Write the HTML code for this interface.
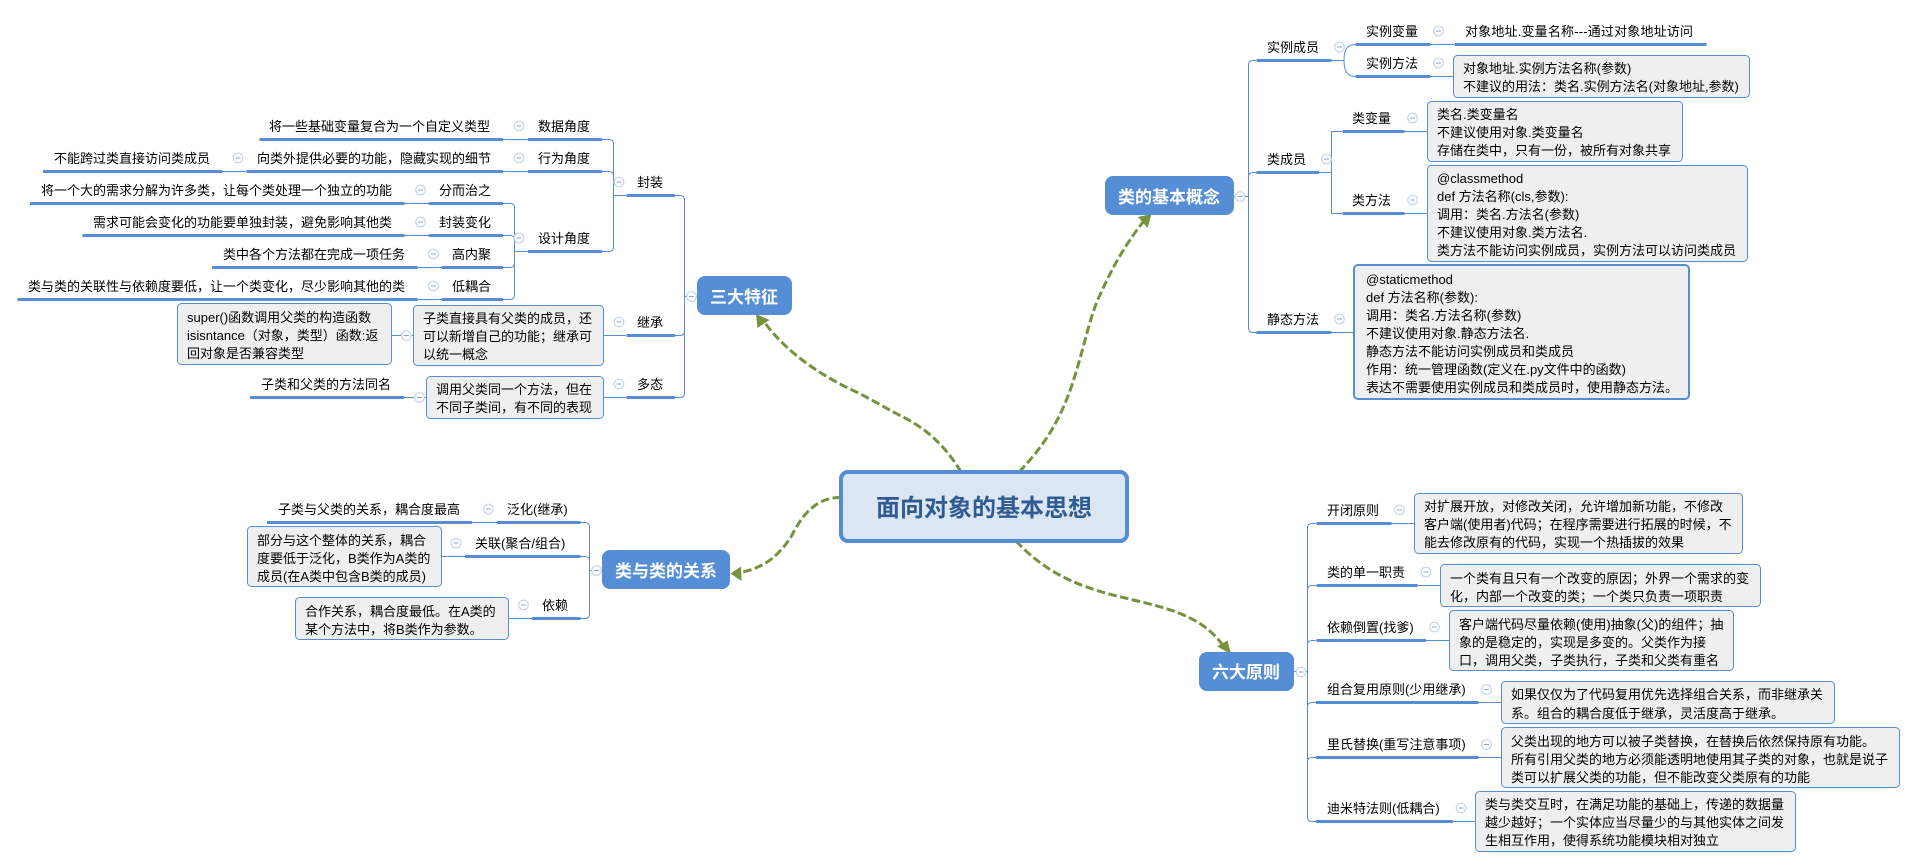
<!DOCTYPE html>
<html lang="zh"><head><meta charset="utf-8"><title>面向对象的基本思想</title>
<style>
html,body{margin:0;padding:0;background:#fff;width:1916px;height:868px;overflow:hidden}
svg{display:block}
text{font-family:"Liberation Sans","Noto Sans CJK SC",sans-serif;font-size:13px;fill:#000}
.thin{fill:none;stroke:#558ed5;stroke-width:1}
.thick{fill:none;stroke:#558ed5;stroke-width:3}
.box{fill:#efefef;stroke:#558ed5;stroke-width:1}
.head{fill:#558ed5}
.ht{font-size:17px;font-weight:700;fill:#fff}
.arr{fill:none;stroke:#76923c;stroke-width:3;stroke-dasharray:8.5 3.5}
.ah{fill:#76923c}
</style></head><body>
<svg width="1916" height="868" viewBox="0 0 1916 868" xmlns="http://www.w3.org/2000/svg">
<defs><g id="c"><circle r="4.8" fill="#fff" stroke="#c6d4ee" stroke-width="1.2"/><path d="M-2.5 0H2.5" stroke="#8ea6d6" stroke-width="1"/></g></defs>

<!-- thin connectors -->
<g class="thin">
<path d="M503 139.5H528M602 139.5H609Q613.5 139.5 613.5 144V247Q613.5 251.5 609 251.5H602M602 171.5H609Q613.5 171.5 613.5 176M613.5 195.5H626"/>
<path d="M222 171.5H246M503 171.5H528"/>
<path d="M404 203.5H429M404 235.5H429M417 267.5H442M417 299.5H442"/>
<path d="M503 203.5H510Q514.5 203.5 514.5 208V295Q514.5 299.5 510 299.5H503M503 235.5H510Q514.5 235.5 514.5 240M503 267.5H510Q514.5 267.5 514.5 263M514.5 251.5H528"/>
<path d="M675 195.5H680Q684.5 195.5 684.5 200V393Q684.5 397.5 680 397.5H675M675 335.5H680Q684.5 335.5 684.5 331M684.5 296.5H697"/>
<path d="M603 335.5H626M391 335.5H413.5M603 397.5H626M404 397.5H426.5"/>
<path d="M580 522.5H585Q589.5 522.5 589.5 527V614Q589.5 618.5 585 618.5H580M580 556.5H585Q589.5 556.5 589.5 561M589.5 570.5H602M472 522.5H497M441.5 556.5H465M508.5 618.5H532"/>
<path d="M1234 196.5H1248M1256 60.5H1253Q1248.5 60.5 1248.5 65V328Q1248.5 332.5 1253 332.5H1257M1257 172.5H1253Q1248.5 172.5 1248.5 177"/>
<path d="M1331 60.5H1344M1355.5 44.5C1347 44.5 1344 50 1344 60.5C1344 71 1347 76.5 1355.5 76.5M1430 44.5H1455M1430 76.5H1453.5"/>
<path d="M1319 172.5H1331.5M1343 131.5H1331.5V213.5H1343M1404 131.5H1427.5M1404 213.5H1427.5M1331 332.5H1354"/>
<path d="M1294 671.5H1307.5M1316 523.5H1312Q1307.5 523.5 1307.5 528V817Q1307.5 821.5 1312 821.5H1316M1316 585.5H1312Q1307.5 585.5 1307.5 590M1316 640.5H1312Q1307.5 640.5 1307.5 645M1316 702.5H1312Q1307.5 702.5 1307.5 707M1316 757.5H1312Q1307.5 757.5 1307.5 762"/>
<path d="M1391 523.5H1414.5M1417 585.5H1440.5M1426 640.5H1449.5M1478 702.5H1501.5M1478 757.5H1501.5M1452 821.5H1476"/>
</g>

<!-- thick underlines -->
<g class="thick">
<path d="M528 139.5H602M259.5 139.5H503M528 171.5H602M246.5 171.5H503M43 171.5H222.5"/>
<path d="M428.5 203.5H503M30 203.5H404.5M428.5 235.5H503M82.5 235.5H404.5M441.5 267.5H503M212 267.5H417.5M441.5 299.5H503M17.5 299.5H417.5M528 251.5H602"/>
<path d="M626.5 195.5H675M626.5 335.5H675M626.5 397.5H675M250 397.5H404"/>
<path d="M497 522.5H580.5M267 522.5H472M465 556.5H580.5M532 618.5H580.5"/>
<path d="M1256.5 60.5H1331.5M1355.5 44.5H1430.5M1455 44.5H1706.5M1355.5 76.5H1430.5M1256.5 172.5H1319M1343 131.5H1404.5M1343 213.5H1404.5M1256.5 332.5H1331.5"/>
<path d="M1316.5 523.5H1391.5M1316.5 585.5H1417.5M1316.5 640.5H1426M1316 702.5H1478.5M1316 757.5H1478.5M1316 821.5H1453"/>
</g>

<!-- dashed arrows -->
<path class="arr" d="M961 472C945 445 925 428 903 417C885 408 868 397 850 389C815 372 785 350 765 323"/>
<polygon class="ah" points="756,314 769.5,320 757.5,328"/>
<path class="arr" d="M1019 472C1045 445 1060 420 1072 385C1085 345 1090 315 1100 295C1112 268 1125 245 1143 222"/>
<polygon class="ah" points="1151.5,214 1138,217 1147.5,228"/>
<path class="arr" d="M841 497.5C815 497 801 517 791 537C778 556 765 568 738 573"/>
<polygon class="ah" points="730.5,573.5 741,566.5 741.5,581"/>
<path class="arr" d="M1016 541C1045 572 1075 585 1113 595C1160 607 1200 612 1224 647"/>
<polygon class="ah" points="1231,654 1217,646.5 1227.5,640.5"/>

<!-- center -->
<rect x="841" y="472" width="286" height="69" rx="7" fill="#dce6f2" stroke="#558ed5" stroke-width="4"/>
<text x="876" y="516" style="font-size:24px;font-weight:700;fill:#2f5b93">面向对象的基本思想</text>

<!-- main topics -->
<rect class="head" x="697" y="276" width="95" height="39" rx="8"/><text class="ht" x="710" y="303">三大特征</text>
<rect class="head" x="602" y="550" width="128" height="39" rx="8"/><text class="ht" x="615" y="577">类与类的关系</text>
<rect class="head" x="1105" y="176" width="129" height="39" rx="8"/><text class="ht" x="1118" y="203">类的基本概念</text>
<rect class="head" x="1199" y="652" width="95" height="39" rx="8"/><text class="ht" x="1212" y="678">六大原则</text>

<!-- boxes -->
<rect class="box" x="413.5" y="305.5" width="190" height="60" rx="4"/>
<rect class="box" x="177.5" y="303.5" width="214" height="61" rx="4"/>
<rect class="box" x="426.5" y="376.5" width="177" height="42" rx="4"/>
<rect class="box" x="247.5" y="526.5" width="194" height="60" rx="4"/>
<rect class="box" x="295.5" y="597.5" width="213" height="42" rx="4"/>
<rect class="box" x="1453.5" y="55.5" width="296" height="42" rx="4"/>
<rect class="box" x="1427.5" y="101.5" width="255" height="60" rx="4"/>
<rect class="box" x="1427.5" y="165.5" width="320" height="96" rx="4"/>
<rect class="box" x="1354" y="265" width="335" height="134" rx="4" style="stroke-width:2"/>
<rect class="box" x="1414.5" y="493.5" width="328" height="60" rx="4"/>
<rect class="box" x="1440.5" y="564.5" width="320" height="42" rx="4"/>
<rect class="box" x="1449.5" y="610.5" width="284" height="60" rx="4"/>
<rect class="box" x="1501.5" y="681.5" width="333" height="42" rx="4"/>
<rect class="box" x="1501.5" y="727.5" width="398" height="60" rx="4"/>
<rect class="box" x="1475.5" y="791.5" width="320" height="60" rx="4"/>

<!-- collapse circles -->
<use href="#c" x="519" y="126"/><use href="#c" x="519" y="158"/><use href="#c" x="238" y="158"/><use href="#c" x="420.5" y="190"/><use href="#c" x="420.5" y="222"/><use href="#c" x="433.5" y="254"/><use href="#c" x="433.5" y="286"/><use href="#c" x="519" y="238"/><use href="#c" x="619" y="182"/><use href="#c" x="619" y="322"/><use href="#c" x="619" y="384"/><use href="#c" x="691.5" y="296.5"/><use href="#c" x="406.5" y="335.5"/><use href="#c" x="419.5" y="397.5"/>
<use href="#c" x="488.5" y="509"/><use href="#c" x="456" y="543"/><use href="#c" x="523.5" y="605"/><use href="#c" x="596.5" y="570.5"/>
<use href="#c" x="1240" y="196.5"/><use href="#c" x="1339.5" y="47"/><use href="#c" x="1438.5" y="31"/><use href="#c" x="1438.5" y="63"/><use href="#c" x="1326.5" y="159"/><use href="#c" x="1412.5" y="118"/><use href="#c" x="1412.5" y="200"/><use href="#c" x="1339.5" y="319"/>
<use href="#c" x="1301" y="672"/><use href="#c" x="1399.5" y="510"/><use href="#c" x="1426" y="572"/><use href="#c" x="1434.5" y="627"/><use href="#c" x="1486.5" y="689.5"/><use href="#c" x="1486.5" y="744.5"/><use href="#c" x="1461" y="808"/>

<!-- 三大特征 labels -->
<text x="538" y="131">数据角度</text>
<text x="269" y="131">将一些基础变量复合为一个自定义类型</text>
<text x="538" y="163">行为角度</text>
<text x="257" y="163">向类外提供必要的功能，隐藏实现的细节</text>
<text x="54" y="163">不能跨过类直接访问类成员</text>
<text x="439" y="195">分而治之</text>
<text x="41" y="195">将一个大的需求分解为许多类，让每个类处理一个独立的功能</text>
<text x="439" y="227">封装变化</text>
<text x="93" y="227">需求可能会变化的功能要单独封装，避免影响其他类</text>
<text x="452" y="259">高内聚</text>
<text x="223" y="259">类中各个方法都在完成一项任务</text>
<text x="452" y="291">低耦合</text>
<text x="28" y="291">类与类的关联性与依赖度要低，让一个类变化，尽少影响其他的类</text>
<text x="538" y="243">设计角度</text>
<text x="637" y="187">封装</text>
<text x="637" y="327">继承</text>
<text x="637" y="389">多态</text>
<text x="423" y="323">子类直接具有父类的成员，还</text>
<text x="423" y="341">可以新增自己的功能；继承可</text>
<text x="423" y="359">以统一概念</text>
<text x="187" y="322">super()函数调用父类的构造函数</text>
<text x="187" y="340">isisntance（对象，类型）函数:返</text>
<text x="187" y="358">回对象是否兼容类型</text>
<text x="436" y="394">调用父类同一个方法，但在</text>
<text x="436" y="412">不同子类间，有不同的表现</text>
<text x="261" y="389">子类和父类的方法同名</text>

<!-- 类与类的关系 labels -->
<text x="507" y="514">泛化(继承)</text>
<text x="278" y="514">子类与父类的关系，耦合度最高</text>
<text x="475" y="548">关联(聚合/组合)</text>
<text x="257" y="545">部分与这个整体的关系，耦合</text>
<text x="257" y="563">度要低于泛化，B类作为A类的</text>
<text x="257" y="581">成员(在A类中包含B类的成员)</text>
<text x="542" y="610">依赖</text>
<text x="305" y="616">合作关系，耦合度最低。在A类的</text>
<text x="305" y="634">某个方法中，将B类作为参数。</text>

<!-- 类的基本概念 labels -->
<text x="1267" y="52">实例成员</text>
<text x="1366" y="36">实例变量</text>
<text x="1465" y="36" textLength="228" lengthAdjust="spacing">对象地址.变量名称---通过对象地址访问</text>
<text x="1366" y="68">实例方法</text>
<text x="1463" y="73">对象地址.实例方法名称(参数)</text>
<text x="1463" y="91">不建议的用法：类名.实例方法名(对象地址,参数)</text>
<text x="1267" y="164">类成员</text>
<text x="1352" y="123">类变量</text>
<text x="1437" y="119">类名.类变量名</text>
<text x="1437" y="137">不建议使用对象.类变量名</text>
<text x="1437" y="155">存储在类中，只有一份，被所有对象共享</text>
<text x="1352" y="205">类方法</text>
<text x="1437" y="183">@classmethod</text>
<text x="1437" y="201">def 方法名称(cls,参数):</text>
<text x="1437" y="219">调用：类名.方法名(参数)</text>
<text x="1437" y="237">不建议使用对象.类方法名.</text>
<text x="1437" y="255">类方法不能访问实例成员，实例方法可以访问类成员</text>
<text x="1267" y="324">静态方法</text>
<text x="1366" y="284">@staticmethod</text>
<text x="1366" y="302">def 方法名称(参数):</text>
<text x="1366" y="320">调用：类名.方法名称(参数)</text>
<text x="1366" y="338">不建议使用对象.静态方法名.</text>
<text x="1366" y="356">静态方法不能访问实例成员和类成员</text>
<text x="1366" y="374">作用：统一管理函数(定义在.py文件中的函数)</text>
<text x="1366" y="392">表达不需要使用实例成员和类成员时，使用静态方法。</text>

<!-- 六大原则 labels -->
<text x="1327" y="515">开闭原则</text>
<text x="1424" y="511">对扩展开放，对修改关闭，允许增加新功能，不修改</text>
<text x="1424" y="529">客户端(使用者)代码；在程序需要进行拓展的时候，不</text>
<text x="1424" y="547">能去修改原有的代码，实现一个热插拔的效果</text>
<text x="1327" y="577">类的单一职责</text>
<text x="1450" y="583">一个类有且只有一个改变的原因；外界一个需求的变</text>
<text x="1450" y="601">化，内部一个改变的类；一个类只负责一项职责</text>
<text x="1327" y="632">依赖倒置(找爹)</text>
<text x="1459" y="629">客户端代码尽量依赖(使用)抽象(父)的组件；抽</text>
<text x="1459" y="647">象的是稳定的，实现是多变的。父类作为接</text>
<text x="1459" y="665">口，调用父类，子类执行，子类和父类有重名</text>
<text x="1327" y="694">组合复用原则(少用继承)</text>
<text x="1511" y="699">如果仅仅为了代码复用优先选择组合关系，而非继承关</text>
<text x="1511" y="718">系。组合的耦合度低于继承，灵活度高于继承。</text>
<text x="1327" y="749">里氏替换(重写注意事项)</text>
<text x="1511" y="746">父类出现的地方可以被子类替换，在替换后依然保持原有功能。</text>
<text x="1511" y="764">所有引用父类的地方必须能透明地使用其子类的对象，也就是说子</text>
<text x="1511" y="782">类可以扩展父类的功能，但不能改变父类原有的功能</text>
<text x="1327" y="813">迪米特法则(低耦合)</text>
<text x="1485" y="809">类与类交互时，在满足功能的基础上，传递的数据量</text>
<text x="1485" y="827">越少越好；一个实体应当尽量少的与其他实体之间发</text>
<text x="1485" y="845">生相互作用，使得系统功能模块相对独立</text>
</svg>
</body></html>
